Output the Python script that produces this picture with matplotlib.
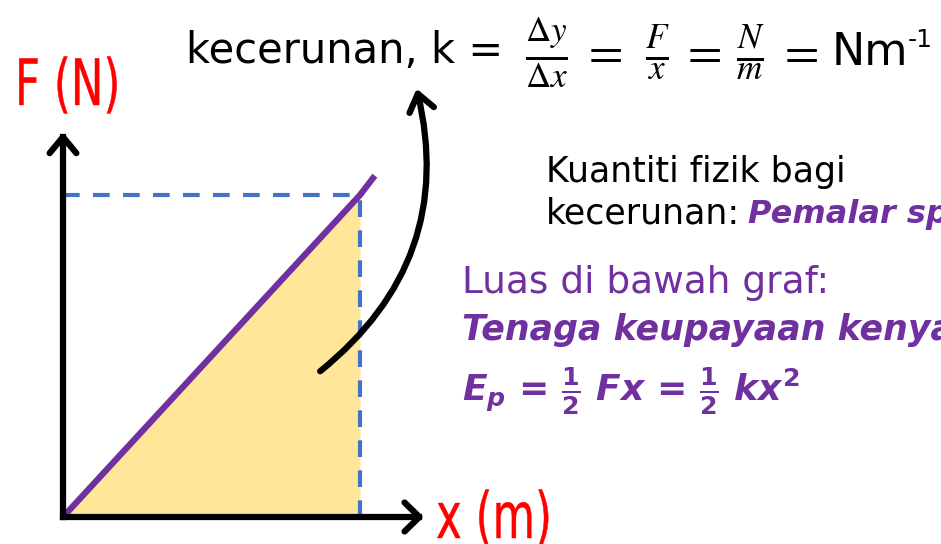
import matplotlib
matplotlib.use('Agg')
import matplotlib.pyplot as plt
from matplotlib.patches import FancyArrowPatch, PathPatch
from matplotlib.textpath import TextPath
from matplotlib.font_manager import FontProperties
from matplotlib.transforms import Affine2D

# spring: F is proportional to x (Hooke's law), values in graph units
x_vals = [0.0, 1.0, 1.05]
F_vals = [0.0, 1.0, 1.06]
x_max, F_max = 1.0, 1.0          # point (dashed guides)
axis_len_x, axis_len_F = 1.20, 1.18

purple = '#7030A0'
blue = '#4472C4'
gold = '#FFE699'
red = '#FF0000'

plt.rcParams['mathtext.fontset'] = 'custom'
plt.rcParams['mathtext.it'] = 'DejaVu Sans:italic:bold'
plt.rcParams['mathtext.rm'] = 'DejaVu Sans:bold'
plt.rcParams['mathtext.bf'] = 'DejaVu Sans:bold'

W, H = 941, 544
fig = plt.figure(figsize=(W / 100, H / 100), dpi=100)
ax = fig.add_axes([0, 0, 1, 1])
ox, oy = 63, 517          # origin in pixels
sx, sy = 297, 322         # pixels per graph unit
ax.set_xlim(-ox / sx, (W - ox) / sx)
ax.set_ylim(-(H - oy) / sy, oy / sy)
ax.axis('off')

def px(x, y):
    return x / W, 1 - y / H

# shaded area under the graph
ax.fill_between(x_vals[:2], [0, 0], F_vals[:2], color=gold, lw=0, zorder=1)

# dashed guides
ax.plot([0, x_max], [F_max, F_max], ls=(0, (4, 3.2)), color=blue, lw=3, zorder=2)
ax.plot([x_max, x_max], [0, F_max], ls=(0, (4, 3.2)), color=blue, lw=3, zorder=2)

# axes with open arrow heads
ax.plot([0, 0], [0, axis_len_F], color='black', lw=4.5, zorder=4)
ax.plot([0, axis_len_x], [0, 0], color='black', lw=4.5, zorder=4)
ax.plot([-0.045, 0, 0.045], [axis_len_F - 0.05, axis_len_F, axis_len_F - 0.05],
        color='black', lw=4.5, solid_capstyle='round', zorder=4)
ax.plot([axis_len_x - 0.05, axis_len_x, axis_len_x - 0.05], [0.045, 0, -0.045],
        color='black', lw=4.5, solid_capstyle='round', zorder=4)

# the F-x line
ax.plot(x_vals, F_vals, color=purple, lw=4.5, solid_capstyle='butt', zorder=3)

# curved arrow from area to the gradient formula
start = ((318 - ox) / sx, (oy - 373) / sy)
end = ((416 - ox) / sx, (oy - 86) / sy)
arr = FancyArrowPatch(start, end, connectionstyle='arc3,rad=0.32',
                      arrowstyle='->,head_length=12,head_width=9',
                      lw=4.5, color='black', zorder=5)
ax.add_patch(arr)

# axis labels (condensed look: text path squeezed horizontally)
def narrow_label(s, x, y_base, size=64, squeeze=0.68):
    tp = TextPath((0, 0), s, size=size, prop=FontProperties(family='DejaVu Sans'))
    tr = Affine2D().scale(squeeze, 1).translate(x, H - y_base)
    fig.patches.append(PathPatch(tp, transform=tr, color=red, lw=0.3))

narrow_label('F (N)', 15, 105)
narrow_label('x (m)', 436, 538)

# gradient formula
fig.text(*px(186, 63), 'kecerunan, k =', fontsize=30, va='baseline', ha='left')
math_parts = [(546, r'$\frac{\Delta y}{\Delta x}$'), (602, '$=$'),
              (657, r'$\frac{F}{x}$'), (701, '$=$'),
              (750, r'$\frac{N}{m}$'), (798, '$=$')]
for cx, s in math_parts:
    fig.text(*px(cx, 52), s, fontsize=36, va='center', ha='center',
             math_fontfamily='stix')
fig.text(*px(832, 65), 'Nm', fontsize=32, va='baseline', ha='left')
fig.text(*px(908, 28), '-1', fontsize=18, va='top', ha='left')

# right-hand notes
fig.text(*px(546, 182), 'Kuantiti fizik bagi', fontsize=25, va='baseline', ha='left')
t1 = fig.text(*px(546, 223), 'kecerunan:', fontsize=25, va='baseline', ha='left')
fig.canvas.draw()
bb = t1.get_window_extent()
fig.text((bb.x1 + 8) / W, 1 - 223 / H, 'Pemalar spring', fontsize=23, va='baseline',
         ha='left', color=purple, fontweight='bold', style='italic')

fig.text(*px(462, 293), 'Luas di bawah graf:', fontsize=27, va='baseline',
         ha='left', color=purple)
fig.text(*px(462, 340), 'Tenaga keupayaan kenyal', fontsize=25, va='baseline',
         ha='left', color=purple, fontweight='bold', style='italic')
fig.text(*px(462, 391), r'$E_p$ = $\frac{1}{2}$ $Fx$ = $\frac{1}{2}$ $kx^2$',
         fontsize=26, va='center', ha='left', color=purple, fontweight='bold')

fig.savefig('out.png', dpi=100)
